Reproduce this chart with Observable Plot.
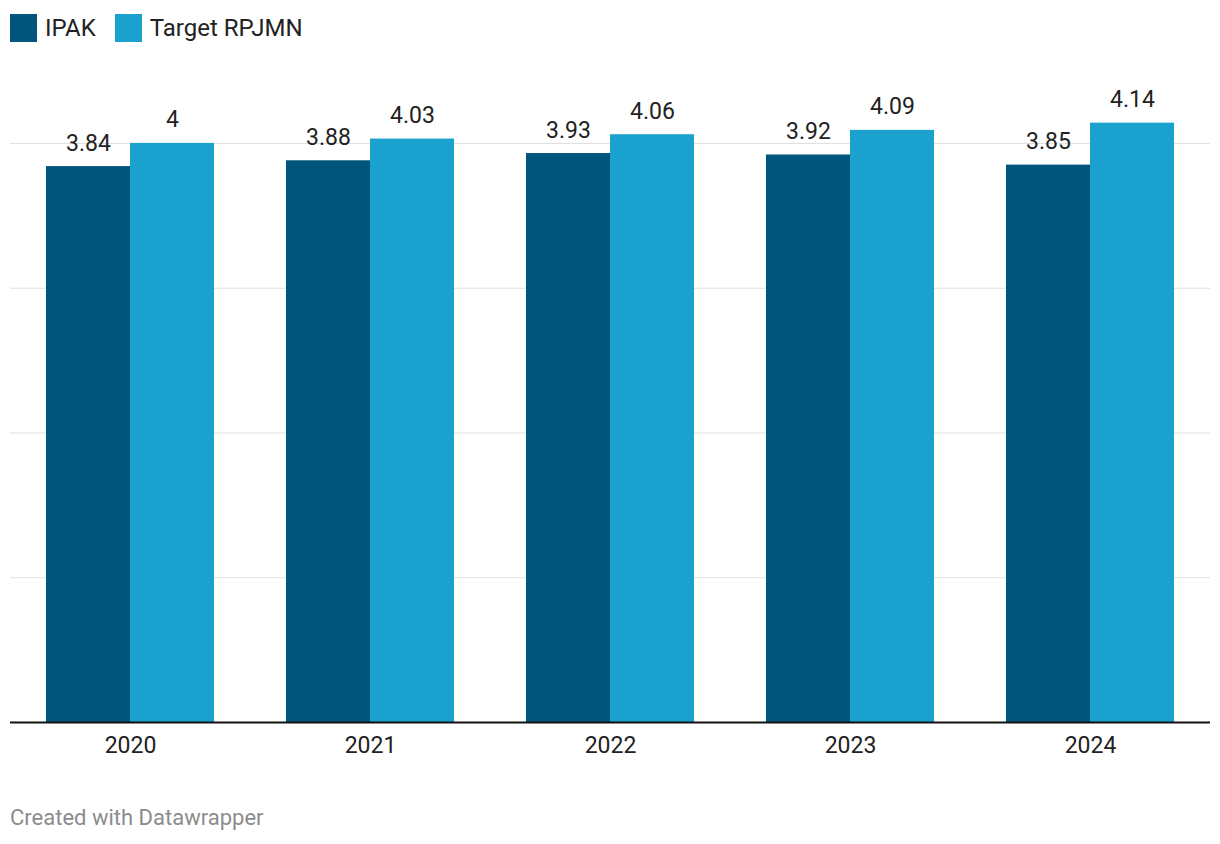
<!DOCTYPE html>
<html>
<head>
<meta charset="utf-8">
<script src="https://cdn.jsdelivr.net/npm/d3@7"></script>
<script src="https://cdn.jsdelivr.net/npm/@observablehq/plot@0.6"></script>
<style>
  html, body { margin: 0; padding: 0; background: #fff; }
  body { width: 1220px; height: 844px; position: relative; font-family: Roboto, "Noto Sans", sans-serif; color: #222; }
  #legend { position: absolute; left: 10px; top: 14px; display: flex; align-items: center; font-size: 24px; height: 28px; }
  .item { display: flex; align-items: center; margin-right: 19px; }
  .sw { width: 27px; height: 28px; margin-right: 8px; }
  #chart { position: absolute; left: 0; top: 55px; }
  #caption { position: absolute; left: 10px; top: 805px; font-size: 22px; color: #8c8c8c; }
</style>
</head>
<body>
<div id="legend"></div>
<div id="chart"></div>
<div id="caption">Created with Datawrapper</div>
<script>
const years = ["2020", "2021", "2022", "2023", "2024"];
const series = ["IPAK", "Target RPJMN"];
const ipak = [3.84, 3.88, 3.93, 3.92, 3.85];
const target = [4, 4.03, 4.06, 4.09, 4.14];
const colors = ["#01557c", "#1ba1ce"];
const gridTicks = [1, 2, 3, 4];

const rows = [];
years.forEach((y, i) => {
  rows.push({year: y, series: series[0], value: ipak[i]});
  rows.push({year: y, series: series[1], value: target[i]});
});
const rowsA = rows.filter(d => d.series === series[0]);
const rowsB = rows.filter(d => d.series === series[1]);

// legend
const legend = document.getElementById("legend");
series.forEach((s, i) => {
  const it = document.createElement("div");
  it.className = "item";
  const sw = document.createElement("div");
  sw.className = "sw";
  sw.style.background = colors[i];
  const t = document.createElement("span");
  t.textContent = s;
  it.appendChild(sw); it.appendChild(t);
  legend.appendChild(it);
});

const half = 42;
const chart = Plot.plot({
  width: 1220,
  height: 720,
  marginLeft: 10,
  marginRight: 10,
  marginTop: 30,
  marginBottom: 53,
  style: {fontFamily: "Roboto, 'Noto Sans', sans-serif", fontSize: "23px", color: "#222", background: "#fff"},
  x: {domain: years, paddingInner: 0.3, paddingOuter: 0.15, label: null},
  y: {domain: [0, 4.4], axis: null},
  color: {domain: series, range: colors},
  marks: [
    Plot.ruleY(gridTicks, {stroke: "#dedede", strokeWidth: 1}),
    Plot.barY(rowsA, {x: "year", y: "value", fill: colors[0], insetRight: 2 * half}),
    Plot.barY(rowsB, {x: "year", y: "value", fill: colors[1], insetLeft: 2 * half}),
    Plot.text(rowsA, {x: "year", y: "value", text: d => String(d.value), dx: -half, dy: -16, lineAnchor: "bottom", fill: "#222", fontSize: 23}),
    Plot.text(rowsB, {x: "year", y: "value", text: d => String(d.value), dx: half, dy: -16, lineAnchor: "bottom", fill: "#222", fontSize: 23}),
    Plot.ruleY([0], {stroke: "#111", strokeWidth: 2}),
    Plot.axisX({tickSize: 0, tickPadding: 14, fontSize: 23, fill: "#222", label: null})
  ]
});
document.getElementById("chart").appendChild(chart);
</script>
</body>
</html>
